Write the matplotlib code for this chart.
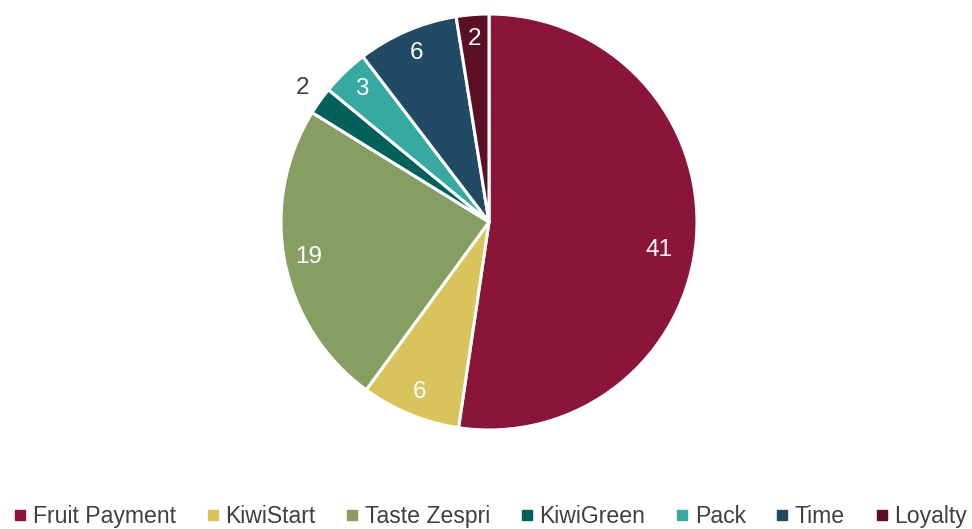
import matplotlib
matplotlib.use("Agg")
import matplotlib.pyplot as plt
from matplotlib.lines import Line2D
import numpy as np

categories = ["Fruit Payment", "KiwiStart", "Taste Zespri", "KiwiGreen", "Pack", "Time", "Loyalty"]
values = [41.4, 6.1, 18.8, 1.7, 2.9, 6.2, 2.0]
labels = ["41", "6", "19", "2", "3", "6", "2"]
colors = ["#8A1538", "#D8C45A", "#879E62", "#00605A", "#36A9A1", "#214A64", "#5A0F24"]

plt.rcParams['font.family'] = ['Liberation Sans', 'DejaVu Sans']

fig = plt.figure(figsize=(9.72, 5.29), dpi=100)
cx, cy, r = 489, 222, 208
ax = fig.add_axes([(cx - r) / 972, (529 - cy - r) / 529, 2 * r / 972, 2 * r / 529])
wedges, texts = ax.pie(values, colors=colors, startangle=90, counterclock=False,
                       radius=1, wedgeprops=dict(edgecolor="white", linewidth=2.2),
                       labels=labels, labeldistance=0.885,
                       textprops=dict(color="white", fontsize=17.5, ha="center", va="center"))
for t in texts:
    t.set_horizontalalignment("center")
    t.set_verticalalignment("center")

def place(t, dist, dang=0.0):
    x, y = t.get_position()
    ang = np.arctan2(y, x) + np.deg2rad(dang)
    t.set_position((dist * np.cos(ang), dist * np.sin(ang)))

# largest slice label sits a little further in and lower
place(texts[0], 0.83, -5)
# small KiwiGreen label goes outside
place(texts[3], 1.105)
texts[3].set_color("#404040")

ax.set_xlim(-1, 1)
ax.set_ylim(-1, 1)
ax.set_aspect("equal")
ax.axis("off")

handles = [Line2D([0], [0], marker="s", linestyle="none", markersize=6.5,
                  markerfacecolor=c, markeredgecolor=c) for c in colors]
fig.legend(handles, categories, loc="center", bbox_to_anchor=(0.502, 0.023), ncol=7,
           frameon=False, fontsize=16.6, labelcolor="#404040",
           handletextpad=0.05, columnspacing=1.09, handlelength=1.0, borderaxespad=0)

fig.savefig("out.png", dpi=100)
